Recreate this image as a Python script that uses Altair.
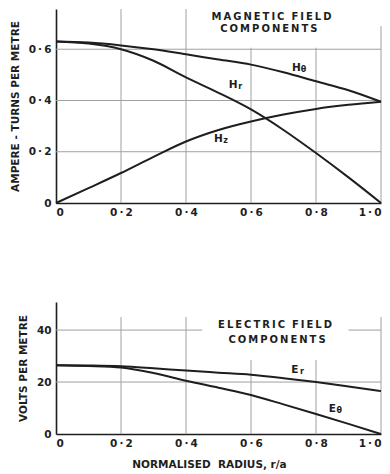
import altair as alt
import pandas as pd

# ---- data ----
R = [0.0, 0.1, 0.2, 0.3, 0.4, 0.5, 0.6, 0.7, 0.8, 0.9, 1.0]
H_THETA = [0.63, 0.626, 0.615, 0.60, 0.58, 0.56, 0.54, 0.51, 0.475, 0.44, 0.395]
H_R = [0.63, 0.622, 0.60, 0.555, 0.49, 0.43, 0.365, 0.285, 0.195, 0.10, 0.0]
H_Z = [0.0, 0.058, 0.117, 0.18, 0.24, 0.285, 0.318, 0.345, 0.367, 0.383, 0.395]
E_R = [26.5, 26.4, 26.1, 25.3, 24.4, 23.6, 22.8, 21.5, 20.0, 18.3, 16.5]
E_THETA = [26.5, 26.2, 25.6, 23.5, 20.5, 17.8, 15.0, 11.4, 7.7, 3.9, 0.0]

X_TICKS = [0.0, 0.2, 0.4, 0.6, 0.8, 1.0]
H_TICKS = [0.0, 0.2, 0.4, 0.6]
E_TICKS = [0, 20, 40]

FONT = "DejaVu Sans"
INK = "#1e1e1e"
GRID = "#a0a0a0"
W = 325
TS = "\u2009"   # thin space, used to widen the lettering
GAP = "\u00a0\u00a0"  # wide word gap (non-collapsing)


def spaced(s):
    return TS.join(list(s))


mag = pd.DataFrame({
    "r": R * 3,
    "v": H_THETA + H_R + H_Z,
    "s": ["Hθ"] * len(R) + ["Hr"] * len(R) + ["Hz"] * len(R),
})
ele = pd.DataFrame({
    "r": R * 2,
    "v": E_R + E_THETA,
    "s": ["Er"] * len(R) + ["Eθ"] * len(R),
})

label_expr = (
    "datum.value == 0 ? '0' : "
    "replace(format(datum.value, '.1f'), '.', '\u2009·\u2009')"
)


def panel(df, ymax, yticks, ytitle, grid_top, boxes, titles, labels, yfmt, xtitle, height):
    xs = alt.Scale(domain=[0, 1], nice=False)
    ys = alt.Scale(domain=[0, ymax], nice=False)
    base = alt.Chart(df)
    vgrid = alt.Chart(pd.DataFrame({"g": X_TICKS[1:]})).mark_rule(
        color=GRID, strokeWidth=1
    ).encode(x=alt.X("g:Q", scale=xs), y=alt.datum(0), y2=alt.datum(grid_top))
    hgrid = alt.Chart(pd.DataFrame({"g": yticks[1:]})).mark_rule(
        color=GRID, strokeWidth=1
    ).encode(y=alt.Y("g:Q", scale=ys), x=alt.datum(0), x2=alt.datum(1))
    layers = [vgrid, hgrid]
    for (x1, x2, y1, y2) in boxes:
        layers.append(
            alt.Chart(pd.DataFrame({"a": [0]})).mark_rect(color="white").encode(
                x=alt.datum(x1), x2=alt.datum(x2), y=alt.datum(y1), y2=alt.datum(y2)
            )
        )
    xaxis = dict(
        values=X_TICKS, labelExpr=label_expr, grid=False,
        ticks=False, labelPadding=4, titlePadding=11,
    )
    if xtitle:
        xaxis["title"] = xtitle
        xaxis["titleX"] = 153
    else:
        xaxis["title"] = ""
    lines = base.mark_line(color=INK, strokeWidth=2, interpolate="monotone").encode(
        x=alt.X("r:Q", scale=xs, axis=alt.Axis(**xaxis)),
        y=alt.Y(
            "v:Q", scale=ys,
            axis=alt.Axis(
                values=yticks, labelExpr=yfmt, title=ytitle, grid=False,
                ticks=False, labelPadding=5, titlePadding=8,
            ),
        ),
        detail="s:N",
    )
    layers.append(lines)
    for (t, x, y) in titles:
        layers.append(
            alt.Chart(pd.DataFrame({"a": [0]})).mark_text(
                text=t, font=FONT, fontSize=10, fontWeight="bold", color=INK
            ).encode(x=alt.datum(x), y=alt.datum(y))
        )
    for (main, sub, x, y) in labels:
        layers.append(
            alt.Chart(pd.DataFrame({"a": [0]})).mark_text(
                text=main, font=FONT, fontSize=10.5, fontWeight="bold", color=INK
            ).encode(x=alt.datum(x), y=alt.datum(y))
        )
        layers.append(
            alt.Chart(pd.DataFrame({"a": [0]})).mark_text(
                text=sub, font=FONT, fontSize=8, fontWeight="bold", color=INK,
                dx=7, dy=2,
            ).encode(x=alt.datum(x), y=alt.datum(y))
        )
    return alt.layer(*layers).properties(width=W, height=height)


top = panel(
    mag, 0.757, H_TICKS, "AMPERE - TURNS PER METRE", 0.757,
    [(0.45, 0.975, 0.606, 0.757), (0.975, 1.02, 0.69, 0.757)],
    [(spaced("MAGNETIC") + GAP + spaced("FIELD"), 0.663, 0.727),
     (spaced("COMPONENTS"), 0.655, 0.679)],
    [("H", "θ", 0.74, 0.526), ("H", "r", 0.545, 0.46), ("H", "z", 0.50, 0.25)],
    label_expr, None, 194,
)
bottom = panel(
    ele, 50.8, E_TICKS, "VOLTS PER METRE", 45,
    [(0.45, 0.9, 28.5, 46)],
    [(spaced("ELECTRIC") + GAP + spaced("FIELD"), 0.674, 41.9),
     (spaced("COMPONENTS"), 0.68, 36.2)],
    [("E", "r", 0.735, 24.6), ("E", "θ", 0.85, 9.6)],
    "format(datum.value, 'd')", "NORMALISED" + GAP + "RADIUS, r/a", 132,
)

chart = alt.vconcat(top, bottom, spacing=84).properties(
    padding={"left": 2, "top": 0, "right": -6, "bottom": 0}
).configure_view(stroke=None).configure_axis(
    labelFont=FONT, labelFontSize=10.5, labelFontWeight="bold", labelColor=INK,
    titleFont=FONT, titleFontSize=10.5, titleFontWeight="bold", titleColor=INK,
    domainColor=INK, domainWidth=1.6,
)

chart.save("out.html", embed_options={"renderer": "svg", "actions": False})
